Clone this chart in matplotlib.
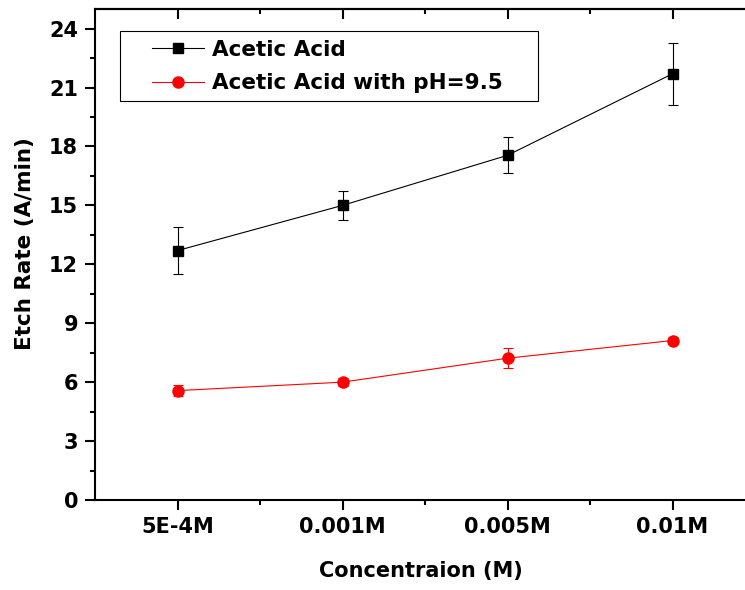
import matplotlib
matplotlib.use("Agg")
import matplotlib.pyplot as plt
from matplotlib.ticker import MultipleLocator, FixedLocator
from matplotlib.lines import Line2D
from matplotlib.patches import Rectangle
import numpy as np

categories = ["5E-4M", "0.001M", "0.005M", "0.01M"]
acetic = [12.7, 15.0, 17.55, 21.7]
acetic_err = [1.2, 0.72, 0.92, 1.58]
acetic_ph = [5.57, 6.0, 7.22, 8.12]
acetic_ph_err = [0.3, 0.2, 0.52, 0.2]
series_labels = ["Acetic Acid", "Acetic Acid with pH=9.5"]

plt.rcParams['font.family'] = ['DejaVu Sans']
plt.rcParams['font.weight'] = 'bold'

W, H = 745, 590
fig = plt.figure(figsize=(W / 100, H / 100), dpi=100)
ax = fig.add_axes([95 / W, 1 - 500 / H, 660 / W, 491 / H])

x = np.arange(1, len(categories) + 1)
ax.errorbar(x, acetic, yerr=acetic_err, color='black', marker='s', markersize=7,
            linewidth=0.8, elinewidth=0.8, capsize=3.4, capthick=0.8)
ax.errorbar(x, acetic_ph, yerr=acetic_ph_err, color='red', marker='o', markersize=8,
            linewidth=0.8, elinewidth=0.8, capsize=3.4, capthick=0.8)

ax.set_xlim(0.5, 4.5)
ax.set_ylim(0, 25)
ax.set_xticks(x)
ax.set_xticklabels(categories)
ax.xaxis.set_minor_locator(FixedLocator([1.5, 2.5, 3.5]))
ax.yaxis.set_major_locator(MultipleLocator(3))
ax.yaxis.set_minor_locator(MultipleLocator(1.5))

for s in ax.spines.values():
    s.set_linewidth(1.5)

ax.tick_params(axis='both', which='major', direction='out', length=7.2, width=1.5,
               labelsize=15, top=False, right=False)
ax.tick_params(axis='x', which='major', pad=5)
ax.tick_params(axis='y', which='major', pad=5)
ax.tick_params(axis='both', which='minor', direction='out', length=3.8, width=1.5,
               top=False, right=False)

ax2 = ax.secondary_xaxis('top')
ax2.set_xticks(x)
ax2.set_xticklabels([])
ax2.xaxis.set_minor_locator(FixedLocator([1.5, 2.5, 3.5]))
ax2.tick_params(which='major', direction='in', length=7.2, width=1.5)
ax2.tick_params(which='minor', direction='in', length=3.8, width=1.5)
ax2.spines['top'].set_linewidth(1.5)
ay2 = ax.secondary_yaxis('right')
ay2.yaxis.set_major_locator(MultipleLocator(3))
ay2.yaxis.set_minor_locator(MultipleLocator(1.5))
ay2.set_yticklabels([])
ay2.tick_params(which='major', direction='in', length=7.2, width=1.5)
ay2.tick_params(which='minor', direction='in', length=3.8, width=1.5)

for lab in ax.get_xticklabels() + ax.get_yticklabels():
    lab.set_fontweight('bold')

ax.set_xlabel('Concentraion (M)', fontsize=15, fontweight='bold')
ax.set_ylabel('Etch Rate (A/min)', fontsize=15.5, fontweight='bold')
ax.xaxis.set_label_coords(0.494, -0.124)
ax.yaxis.set_label_coords(-0.091, 0.522)

handles = [Line2D([], [], color='black', marker='s', markersize=7, linewidth=0.8),
           Line2D([], [], color='red', marker='o', markersize=8, linewidth=0.8)]
leg = fig.legend(handles, series_labels, loc='upper left',
                 bbox_to_anchor=(152 / W, 1 - 40 / H),
                 prop={'size': 15.5, 'weight': 'bold'}, frameon=False,
                 handlelength=2.41, handletextpad=0.37, borderpad=0,
                 labelspacing=0.62, borderaxespad=0)
fig.add_artist(Rectangle((120 / W, 1 - 101 / H), 418 / W, 70 / H,
                         transform=fig.transFigure, fill=False,
                         edgecolor='black', linewidth=0.8))

fig.savefig('out.png', dpi=100)
